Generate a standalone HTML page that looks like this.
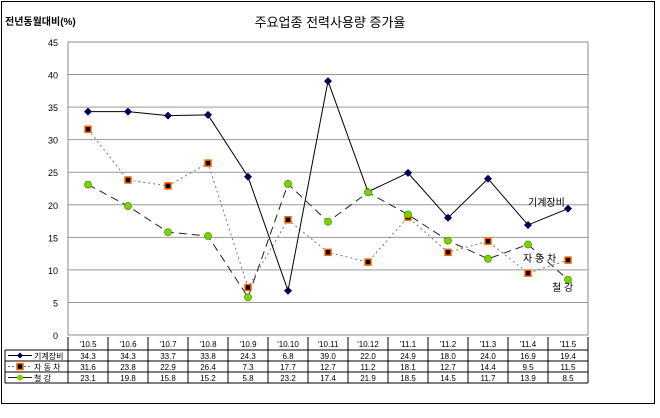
<!DOCTYPE html>
<html><head><meta charset="utf-8"><style>
body{margin:0;background:#fff;}
svg text{font-family:"Liberation Sans","Noto Sans CJK KR",sans-serif;}
</style></head><body>
<svg id="c" width="660" height="413" xmlns="http://www.w3.org/2000/svg">
<rect x="1.5" y="1.5" width="653" height="402" fill="#fff" stroke="#000"/>
<text x="5" y="25" font-size="10" font-weight="bold">전년동월대비(%)</text>
<text x="330" y="27" font-size="13" text-anchor="middle">주요업종 전력사용량 증가율</text>
<g id="grid"></g><g id="series"></g><g id="table"></g>
</svg>
<script>
const categories=["'10.5","'10.6","'10.7","'10.8","'10.9","'10.10","'10.11","'10.12","'11.1","'11.2","'11.3","'11.4","'11.5"];
const machinery=[34.3,34.3,33.7,33.8,24.3,6.8,39.0,22.0,24.9,18.0,24.0,16.9,19.4];
const auto=[31.6,23.8,22.9,26.4,7.3,17.7,12.7,11.2,18.1,12.7,14.4,9.5,11.5];
const steel=[23.1,19.8,15.8,15.2,5.8,23.2,17.4,21.9,18.5,14.5,11.7,13.9,8.5];
const yTicks=[0,5,10,15,20,25,30,35,40,45];
const seriesNames=["기계장비","자 동 차","철    강"];
const NS="http://www.w3.org/2000/svg";
const L=68,R=588,T=42,B=335,ymax=45;
const cw=(R-L)/categories.length;
const x=i=>L+cw*(i+0.5);
const y=v=>B-(v/ymax)*(B-T);
function mk(tag,attrs,parent){const e=document.createElementNS(NS,tag);for(const k in attrs)e.setAttribute(k,attrs[k]);parent.appendChild(e);return e;}
const grid=document.getElementById('grid');
yTicks.forEach(t=>{
 if(t>0){const gl=mk('line',{x1:L,x2:R,y1:y(t),y2:y(t),stroke:'#999'},grid);
 
 }
 const tl=mk('text',{x:L-10,y:y(t)+4,'font-size':9,'text-anchor':'end'},grid);tl.textContent=t;
 
 
});
const pa=mk('rect',{x:L,y:T,width:R-L,height:B-T,fill:'none',stroke:'#888'},grid);


const sg=document.getElementById('series');
function line(data,style,name){
 const p=mk('polyline',Object.assign({points:data.map((v,i)=>x(i)+','+y(v)).join(' '),fill:'none'},style),sg);
 
 
}
line(auto,{stroke:'#777','stroke-dasharray':'2,3'},'auto');
line(steel,{stroke:'#222','stroke-dasharray':'8,5'},'steel');
line(machinery,{stroke:'#000'},'machinery');
machinery.forEach((v,i)=>{const d=mk('polygon',{points:`${x(i)},${y(v)-4} ${x(i)+4},${y(v)} ${x(i)},${y(v)+4} ${x(i)-4},${y(v)}`,fill:'#00005a'},sg);
 
 });
auto.forEach((v,i)=>{const r=mk('rect',{x:x(i)-3,y:y(v)-3,width:6,height:6,fill:'#000',stroke:'#f60','stroke-width':1.5},sg);
 
 });
steel.forEach((v,i)=>{const c=mk('circle',{cx:x(i),cy:y(v),r:3.5,fill:'#8c0',stroke:'#3a0','stroke-width':0.8},sg);
 
 });
[["기계장비",528,206],["자  동 차",523,262],["철     강",552,291]].forEach(([t,lx,ly])=>{
 const e=mk('text',{x:lx,y:ly,'font-size':10},sg);e.textContent=t;
 
 });
// table
const tg=document.getElementById('table');
const rows=[337,350,361,372,383];
mk('line',{x1:5,x2:R,y1:rows[1],y2:rows[1],stroke:'#000'},tg);
for(let r=2;r<rows.length;r++)mk('line',{x1:5,x2:R,y1:rows[r],y2:rows[r],stroke:'#000'},tg);
mk('line',{x1:5,x2:5,y1:rows[1],y2:rows[4],stroke:'#000'},tg);
for(let i=0;i<=categories.length;i++)mk('line',{x1:L+cw*i,x2:L+cw*i,y1:rows[0],y2:rows[4],stroke:'#000'},tg);
categories.forEach((c,i)=>{const t=mk('text',{x:x(i),y:rows[0]+10,'font-size':8,'text-anchor':'middle'},tg);t.textContent=c;
 
 });
[machinery,auto,steel].forEach((arr,r)=>{
 arr.forEach((v,i)=>{const t=mk('text',{x:x(i),y:rows[r+1]+9,'font-size':8,'text-anchor':'middle'},tg);t.textContent=v.toFixed(1);
  
  });
 const cy=rows[r+1]+5.5;
 const ls=r==0?{stroke:'#000'}:r==1?{stroke:'#777','stroke-dasharray':'2,2'}:{stroke:'#222'};
 mk('line',Object.assign({x1:8,x2:32,y1:cy,y2:cy},ls),tg);
 if(r==0)mk('polygon',{points:`20,${cy-3} 23,${cy} 20,${cy+3} 17,${cy}`,fill:'#00005a'},tg);
 if(r==1)mk('rect',{x:17,y:cy-3,width:6,height:6,fill:'#000',stroke:'#f60','stroke-width':1.5},tg);
 if(r==2)mk('circle',{cx:20,cy:cy,r:3,fill:'#8c0'},tg);
 const n=mk('text',{x:34,y:rows[r+1]+9,'font-size':8},tg);n.textContent=seriesNames[r];
 
 
});
</script>
</body></html>
